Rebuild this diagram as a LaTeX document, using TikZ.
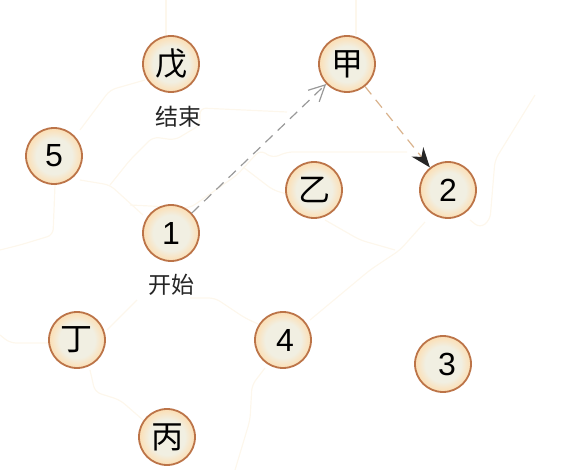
\documentclass[tikz,border=0pt]{standalone}
\usepackage{fontspec}
\setmainfont{Liberation Sans}
\newfontfamily\cjk{Noto Sans CJK SC}
\usetikzlibrary{positioning, arrows.meta}
\definecolor{ringc}{HTML}{BC7448}
\definecolor{discc}{HTML}{F1EFE2}
\definecolor{rimc}{HTML}{FBE0B8}
\definecolor{mapc}{HTML}{FDF7EC}
\pgfdeclareradialshading{discshade}{\pgfpointorigin}{color(0bp)=(discc); color(16bp)=(discc); color(24bp)=(rimc); color(50bp)=(rimc)}
\begin{document}
\begin{tikzpicture}[x=0.5pt, y=-0.5pt, on grid,
	c/.style={circle, draw=ringc, line width=0.9pt, shade, shading=discshade, minimum size=28pt, inner sep=0pt, font=\fontsize{16}{16}\selectfont},
	hz/.style={c, font=\cjk\fontsize{16}{16}\selectfont},
	caption/.style={inner sep=1pt, font=\cjk\fontsize{11.5}{12}\selectfont, text=black!85},
	mapline/.style={draw=mapc, line width=0.6pt, rounded corners=3pt}]
	\useasboundingbox (0,0) rectangle (573,470);

	% faint lines behind the discs
	\draw[mapline] (166,0) -- (166,35);
	\draw[mapline] (356,0) -- (356,35);
	\draw[mapline] (80,130) -- (110,90) -- (145,80);
	\draw[mapline] (80,180) -- (110,185) -- (143,215);
	\draw[mapline] (55,185) -- (53,235) -- (20,245) -- (0,250);
	\draw[mapline] (110,185) -- (130,160) -- (153,137) -- (175,140) -- (200,125) -- (200,108) -- (287,112);
	\draw[mapline] (130,205) -- (190,208) -- (237,175) -- (260,150) -- (273,158) -- (287,152) -- (407,152);
	\draw[mapline] (243,167) -- (273,190) -- (290,195);
	\draw[mapline] (325,220) -- (360,240) -- (395,250);
	\draw[mapline] (310,320) -- (370,270) -- (400,250) -- (425,222);
	\draw[mapline] (470,220) -- (480,228) -- (490,220) -- (495,160) -- (535,95);
	\draw[mapline] (107,330) -- (137,300);
	\draw[mapline] (190,298) -- (215,298) -- (245,318) -- (258,324);
	\draw[mapline] (50,343) -- (10,343) -- (0,335);
	\draw[mapline] (90,370) -- (95,392) -- (120,400) -- (143,420);
	\draw[mapline] (265,368) -- (252,385) -- (250,420) -- (235,470);

	\node [hz] (W) at (171,64) {戊};
	\node [hz, right=88pt of W] (J) {甲};
	\node [c, below left=46pt and 58.5pt of W] (N5) {5};
	\node [hz, below left=63pt and 16.5pt of J] (Y) {乙};
	\node [c, below right=63pt and 50.5pt of J] (N2) {2};
	\node [c, below=84.5pt of W] (N1) {1\hspace{3pt}};
	\node [hz, below left=53.5pt and 47pt of N1] (D) {丁};
	\node [c, below right=53.5pt and 56pt of N1] (N4) {\hspace{2pt}4};
	\node [c, below left=87pt and 2.5pt of N2] (N3) {\hspace{4pt}3};
	\node [hz, below right=48.5pt and 45pt of D] (B) {丙};
	\node [caption, below right=26.5pt and 3.5pt of W] (end) {结束};
	\node [caption, below=26pt of N1] (start) {开始};

	\path[-{Straight Barb[length=8pt, width=8pt]}, draw=black!40, dash pattern=on 5pt off 3.5pt, line width=0.6pt] (N1) edge (J);
	\path[-{Stealth[length=10pt, width=7.5pt, color=black!85]}, draw=brown!60, dash pattern=on 5pt off 3.5pt, line width=0.6pt] (J) edge (N2);
\end{tikzpicture}
\end{document}
